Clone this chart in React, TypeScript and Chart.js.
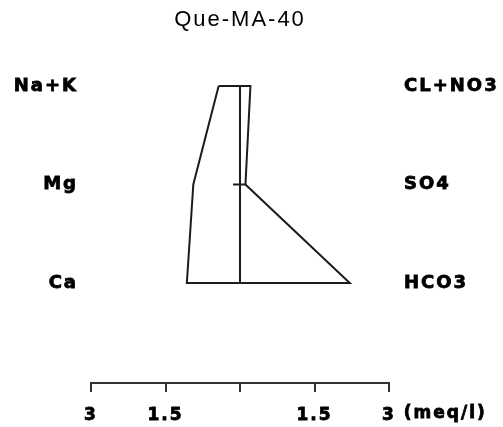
import React, { useEffect, useRef } from "react";
import { Chart, registerables } from "chart.js";

Chart.register(...registerables);

// ---- data ----
const chartTitle = "Que-MA-40";
const cationNames = ["Na+K", "Mg", "Ca"]; // top to bottom
const anionNames = ["CL+NO3", "SO4", "HCO3"]; // top to bottom
const cationValues = [0.43, 0.94, 1.07]; // meq/l
const anionValues = [0.21, 0.11, 2.21]; // meq/l
const rowLevels = [2, 1, 0]; // vertical position of each row, top to bottom
const xTickValues = [-3, -1.5, 0, 1.5, 3];
const xTickLabels = ["3", "1.5", "", "1.5", "3"];
const unitLabel = "(meq/l)";
const centerMarkFrom = -0.14; // small horizontal mark on the centre line at the middle row

const SPACING = "2px";
const STROKE = 0.8;
const labelIndex = (v: number) => rowLevels.indexOf(Math.round(v));

const unitPlugin = {
  id: "unitLabel",
  beforeDraw(chart: any) {
    chart.ctx.letterSpacing = SPACING;
  },
  afterDraw(chart: any) {
    const xs = chart.scales.x;
    const ctx = chart.ctx;
    ctx.save();
    ctx.letterSpacing = SPACING;
    ctx.font = "bold 17px 'DejaVu Sans'";
    ctx.fillStyle = "#000";
    ctx.strokeStyle = "#000";
    ctx.lineWidth = STROKE;
    ctx.textBaseline = "top";
    ctx.textAlign = "left";
    const px = xs.getPixelForValue(3);
    const w3 = ctx.measureText("3").width;
    const startX = px - w3 / 2 + ctx.measureText("3 ").width;
    const y = xs.top + 9 + 13;
    ctx.strokeText(unitLabel, startX, y);
    ctx.fillText(unitLabel, startX, y);
    ctx.restore();
  },
};

export default function App() {
  const ref = useRef<HTMLCanvasElement | null>(null);
  useEffect(() => {
    if (!ref.current) return;
    const polygon = [
      { x: -cationValues[0], y: rowLevels[0] },
      { x: anionValues[0], y: rowLevels[0] },
      { x: anionValues[1], y: rowLevels[1] },
      { x: anionValues[2], y: rowLevels[2] },
      { x: -cationValues[2], y: rowLevels[2] },
      { x: -cationValues[1], y: rowLevels[1] },
      { x: -cationValues[0], y: rowLevels[0] },
    ];
    const centerLine = [
      { x: 0, y: rowLevels[0] },
      { x: 0, y: rowLevels[2] },
    ];
    const centerMark = [
      { x: centerMarkFrom, y: rowLevels[1] },
      { x: anionValues[1], y: rowLevels[1] },
    ];
    const lineStyle = {
      showLine: true,
      borderColor: "#1c1c1c",
      borderWidth: 2,
      pointRadius: 0,
      fill: false,
      tension: 0,
    };
    const yCommon = {
      type: "linear" as const,
      min: -1.015,
      max: 2.3,
      border: { display: false },
      grid: { display: false, drawTicks: false },
      afterBuildTicks: (s: any) => {
        s.ticks = rowLevels.map((v) => ({ value: v }));
      },
    };
    const sideFont = { family: "'DejaVu Sans'", size: 18, weight: "bold" as const };
    const chart = new Chart(ref.current, {
      type: "scatter",
      data: {
        datasets: [
          { data: polygon, ...lineStyle },
          { data: centerLine, ...lineStyle },
          { data: centerMark, ...lineStyle },
        ],
      },
      options: {
        responsive: false,
        animation: false,
        plugins: {
          legend: { display: false },
          tooltip: { enabled: false },
          title: {
            display: true,
            text: chartTitle,
            fullSize: false,
            color: "#000",
            font: { family: "'Liberation Sans'", size: 22, weight: "normal", lineHeight: 1.2 },
            padding: { top: 7, bottom: 23.05 },
          },
        },
        scales: {
          x: {
            type: "linear",
            position: "bottom",
            min: -3,
            max: 3,
            border: { display: true, color: "#333", width: 2 },
            grid: {
              display: true,
              drawOnChartArea: false,
              drawTicks: true,
              tickLength: 9,
              color: "#333",
              lineWidth: 2,
            },
            afterBuildTicks: (s: any) => {
              s.ticks = xTickValues.map((v) => ({ value: v }));
            },
            ticks: {
              color: "#000",
              padding: 13,
              maxRotation: 0,
              autoSkip: false,
              textStrokeColor: "#000",
              textStrokeWidth: STROKE,
              font: { family: "'DejaVu Sans'", size: 17, weight: "bold" },
              callback: (_v: any, i: number) => xTickLabels[i],
            },
            afterFit: (s: any) => {
              s.height = 44;
            },
          },
          y: {
            ...yCommon,
            position: "left",
            ticks: {
              color: "#000",
              padding: 13,
              textStrokeColor: "#000",
              textStrokeWidth: STROKE,
              font: sideFont,
              callback: (v: any) => cationNames[labelIndex(Number(v))],
            },
            afterFit: (s: any) => {
              s.width = 91;
            },
          },
          y2: {
            ...yCommon,
            position: "right",
            ticks: {
              color: "#000",
              padding: 15,
              textStrokeColor: "#000",
              textStrokeWidth: STROKE,
              font: sideFont,
              callback: (v: any) => anionNames[labelIndex(Number(v))],
            },
            afterFit: (s: any) => {
              s.width = 114;
            },
          },
        },
      },
      plugins: [unitPlugin],
    });
    return () => chart.destroy();
  }, []);
  return (
    <div style={{ position: "fixed", left: 0, top: 0, width: 503, height: 427, background: "#fff" }}>
      <canvas ref={ref} width={503} height={427} />
    </div>
  );
}
